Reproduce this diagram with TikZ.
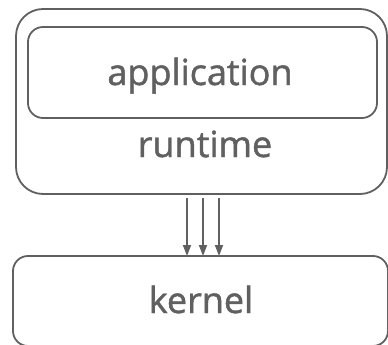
\documentclass[tikz,border=0pt]{standalone}
\usepackage{fontspec}
\setmainfont{Open Sans}
\newfontfamily\lblfont[FakeBold=1.3]{Open Sans}
\usetikzlibrary{arrows.meta,calc}
\definecolor{linegray}{HTML}{606060}
\definecolor{textgray}{HTML}{606060}
\tikzset{
  box/.style={draw=linegray, line width=1.8pt, rectangle, inner sep=0pt, outer sep=0pt},
  label/.style={text=textgray, font=\lblfont\fontsize{36}{40}\selectfont, anchor=base, inner sep=0pt},
  arr/.style={draw=linegray, line width=1.8pt, -{Triangle[width=8pt,length=11pt]}}
}
\begin{document}
\begin{tikzpicture}[x=1pt,y=-1pt]
\useasboundingbox (0,0) rectangle (388,345);
\node[box, rounded corners=27pt, minimum width=371pt, minimum height=185pt] (outer) at (201.5,101.5) {};
\node[box, rounded corners=15pt, minimum width=349pt, minimum height=91pt] (inner) at (202.5,72.5) {};
\node[box, rounded corners=15pt, minimum width=375pt, minimum height=90pt] (kernel) at (200.5,301) {};
\node[label] (apptext) at (200,85) {application};
\node[label] (rttext) at (205,157) {runtime};
\node[label] (ktext) at (201,313) {kernel};
\foreach \dx in {-14.5,1.5,17.5}{
  \draw[arr] ($(outer.south)+(\dx,4)$) -- ($(kernel.north)+(\dx+1,0)$);
}
\end{tikzpicture}
\end{document}
